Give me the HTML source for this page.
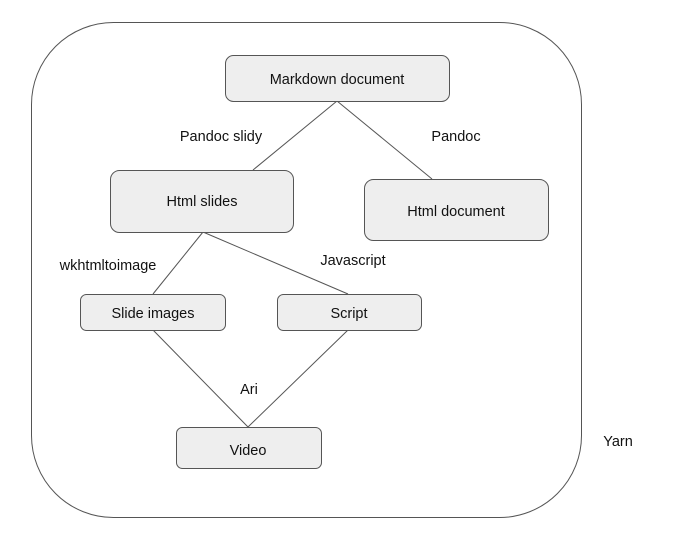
<!DOCTYPE html>
<html><head><style>
body{margin:0;background:#fff;}
svg text{font-family:"Liberation Sans",sans-serif;font-size:14.5px;fill:#111;text-anchor:middle;}
</style></head><body>
<svg width="680" height="539" xmlns="http://www.w3.org/2000/svg">
<rect x="31.5" y="22.5" width="550" height="495" rx="82" ry="82" fill="none" stroke="#555" stroke-width="1"/>
<g stroke="#555" stroke-width="1">
<line x1="337" y1="101" x2="253" y2="170"/>
<line x1="337" y1="101" x2="432" y2="179"/>
<line x1="203" y1="232" x2="153" y2="294"/>
<line x1="203" y1="232" x2="348" y2="294"/>
<line x1="153" y1="330" x2="248" y2="427"/>
<line x1="348" y1="330" x2="248" y2="427"/>
</g>
<g fill="#eeeeee" stroke="#555" stroke-width="1">
<rect x="225.5" y="55.5" width="224" height="46" rx="8"/>
<rect x="110.5" y="170.5" width="183" height="62" rx="9"/>
<rect x="364.5" y="179.5" width="184" height="61" rx="9"/>
<rect x="80.5" y="294.5" width="145" height="36" rx="6"/>
<rect x="277.5" y="294.5" width="144" height="36" rx="6"/>
<rect x="176.5" y="427.5" width="145" height="41" rx="6"/>
</g>
<text x="337" y="84">Markdown document</text>
<text x="202" y="206">Html slides</text>
<text x="456" y="216">Html document</text>
<text x="153" y="318">Slide images</text>
<text x="349" y="318">Script</text>
<text x="248" y="455">Video</text>
<text x="221" y="141">Pandoc slidy</text>
<text x="456" y="141">Pandoc</text>
<text x="108" y="270">wkhtmltoimage</text>
<text x="353" y="265">Javascript</text>
<text x="249" y="394">Ari</text>
<text x="618" y="446">Yarn</text>
</svg>
</body></html>
